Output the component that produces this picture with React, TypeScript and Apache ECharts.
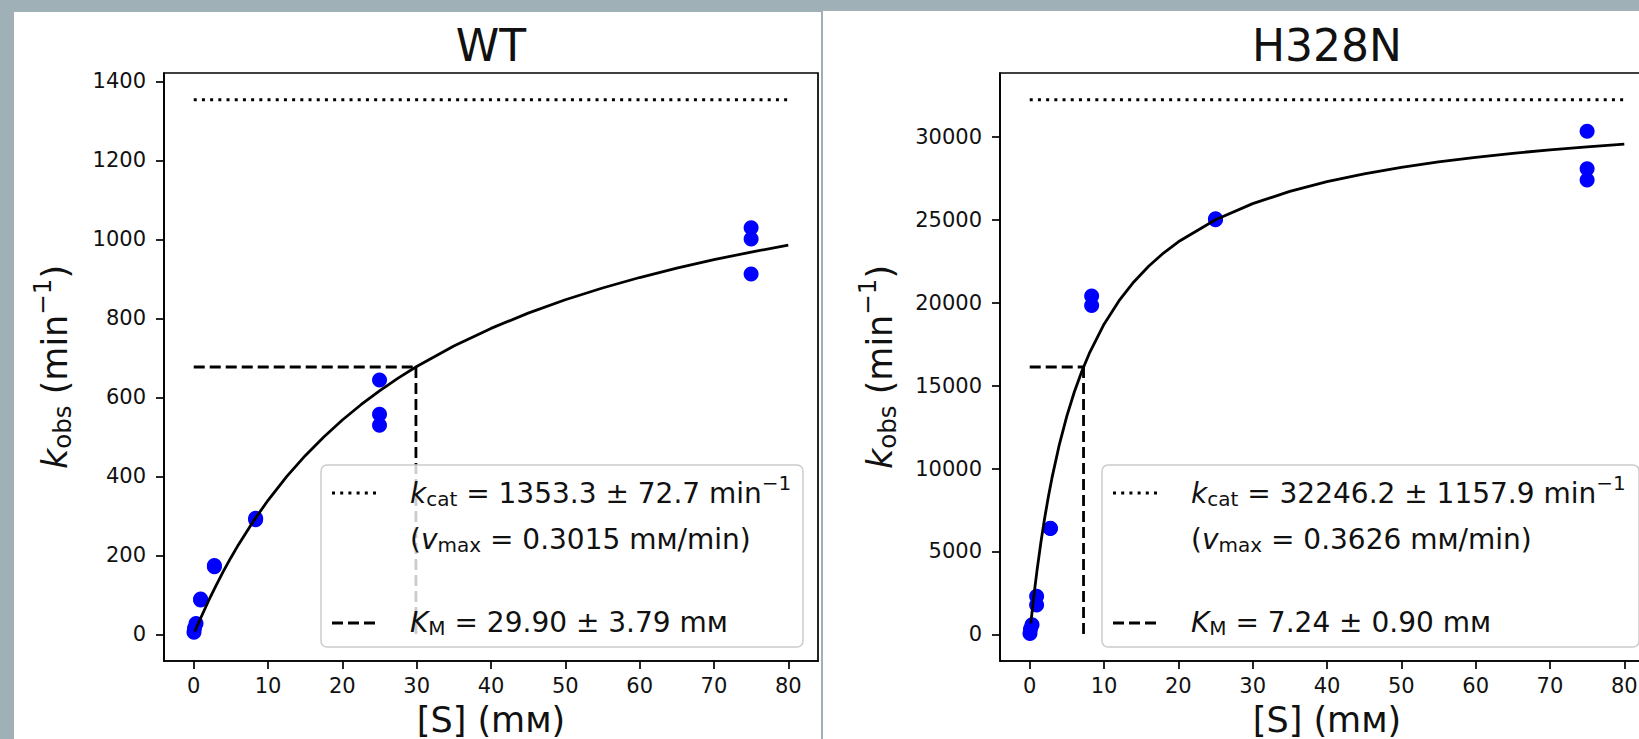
import React, { useEffect, useRef } from "react";
import * as echarts from "echarts";

const FONT = "DejaVu Sans";

// ---- axis ticks & ranges ----
const xTickValues = [0, 10, 20, 30, 40, 50, 60, 70, 80];
const wtYTickValues = [0, 200, 400, 600, 800, 1000, 1200, 1400];
const mutYTickValues = [0, 5000, 10000, 15000, 20000, 25000, 30000];
const xRange = [-4, 84];
const wtYRange = [-67.7, 1421.0];
const mutYRange = [-1612.3, 33858.5];
const refLineEnd = 80;

// ---- titles / labels ----
const panelTitles = ["WT", "H328N"];
const xAxisTitle = "[S] (mм)";

// ---- WT observations ----
const wtS = [75, 75, 75, 25, 25, 25, 8.33, 8.33, 2.78, 2.78, 0.926, 0.926, 0.309, 0.103, 0.034];
const wtK = [1029, 1001, 912, 644, 557, 529, 294, 290, 174, 171, 89, 87, 27, 15, 5];

// ---- H328N observations ----
const mutS = [75, 75, 75, 25, 25, 8.33, 8.33, 2.78, 2.78, 0.926, 0.926, 0.309, 0.103, 0.034];
const mutK = [30350, 28080, 27400, 25060, 25010, 20400, 19830, 6400, 6380, 2300, 1760, 580, 320, 50];

// ---- fitted parameters ----
const wtKcat = 1353.3;
const wtKcatErr = 72.7;
const wtVmax = 0.3015;
const wtKM = 29.9;
const wtKMErr = 3.79;
const mutKcat = 32246.2;
const mutKcatErr = 1157.9;
const mutVmax = 0.3626;
const mutKM = 7.24;
const mutKMErr = 0.9;

// ---- fitted curves ----
const wtFitS = [0.15, 0.5, 1, 2, 3, 4, 5, 6, 8, 10, 12.5, 15, 17.5, 20, 22.5, 25, 27.5, 30, 35, 40, 45, 50, 55, 60, 65, 70, 75, 80];
const wtFitK = [6.8, 22.3, 43.8, 84.9, 123.4, 159.7, 193.9, 226.2, 285.7, 339.2, 399.0, 452.1, 499.6, 542.4, 581.1, 616.3, 648.4, 677.8, 729.8, 774.4, 813.1, 846.9, 876.7, 903.2, 926.9, 948.3, 967.6, 985.1];
const mutFitS = [0.15, 0.3, 0.5, 0.75, 1, 1.5, 2, 2.5, 3, 4, 5, 6, 7, 8, 10, 12, 14, 16, 18, 20, 25, 30, 35, 40, 45, 50, 55, 60, 65, 70, 75, 80];
const mutFitK = [654.5, 1283.0, 2083.1, 3026.9, 3913.4, 5534.2, 6979.7, 8276.7, 9447.1, 11475.5, 13172.5, 14613.1, 15851.3, 16927.2, 18704.3, 20111.9, 21254.6, 22200.5, 22996.5, 23675.6, 25004.8, 25977.1, 26719.1, 27304.1, 27777.3, 28167.5, 28495.2, 28774.1, 29014.4, 29223.6, 29407.4, 29570.9];

const GRIDS = [
  { left: 164, top: 73, width: 654, height: 588 },
  { left: 1000, top: 73, width: 654, height: 588 },
];
const LEGEND_W = [482, 537];

const BLACK = "#000";
const TXT = "#111";
const LW = 2.8;
const DOTTED = [3, 5.2];
const DASHED = [11, 5];

function richSet(fs: number, sfs: number, subPad: number, supPad: number, lh?: number) {
  const base: any = { fontFamily: FONT, fill: TXT };
  if (lh) base.lineHeight = lh;
  return {
    n: { ...base, fontSize: fs },
    i: { ...base, fontSize: fs, fontStyle: "italic" },
    sub: { ...base, fontSize: sfs, padding: [subPad, 0, 0, 0] },
    sup: { ...base, fontSize: sfs, padding: [0, 0, supPad, 0] },
  };
}

function txt(x: number, y: number, text: string, rich: any, extra: any = {}) {
  const align = extra.align || "left";
  const rest = { ...extra };
  delete rest.align;
  return {
    type: "text",
    x,
    y,
    z: 100,
    silent: true,
    ...rest,
    style: {
      text,
      rich,
      align,
      verticalAlign: "middle",
      textAlign: align,
      textVerticalAlign: "middle",
      fill: TXT,
      fontFamily: FONT,
    },
  };
}

export default function App() {
  const ref = useRef<HTMLDivElement>(null);

  useEffect(() => {
    if (!ref.current) return;
    const chart = echarts.init(ref.current, null, { renderer: "svg" });

    const yRanges = [wtYRange, mutYRange];
    const yTicks = [wtYTickValues, mutYTickValues];
    const obsS = [wtS, mutS];
    const obsK = [wtK, mutK];
    const fitS = [wtFitS, mutFitS];
    const fitK = [wtFitK, mutFitK];
    const kcats = [wtKcat, mutKcat];
    const kms = [wtKM, mutKM];

    const axisLabelStyle = {
      fontSize: 21,
      fontFamily: FONT,
      color: TXT,
      formatter: (v: number) => String(v),
    };

    const xAxes = GRIDS.map((_, i) => ({
      type: "value",
      gridIndex: i,
      min: xRange[0],
      max: xRange[1],
      axisLine: { show: true, onZero: false, lineStyle: { color: BLACK, width: 1.7 } },
      axisTick: { show: true, inside: false, length: 8, lineStyle: { color: BLACK, width: 1.7 }, customValues: xTickValues },
      axisLabel: { ...axisLabelStyle, margin: 14, customValues: xTickValues },
      splitLine: { show: false },
    }));
    const yAxes = GRIDS.map((_, i) => ({
      type: "value",
      gridIndex: i,
      min: yRanges[i][0],
      max: yRanges[i][1],
      axisLine: { show: true, onZero: false, lineStyle: { color: BLACK, width: 1.7 } },
      axisTick: { show: true, inside: false, length: 8, lineStyle: { color: BLACK, width: 1.7 }, customValues: yTicks[i] },
      axisLabel: { ...axisLabelStyle, margin: 18, customValues: yTicks[i] },
      splitLine: { show: false },
    }));

    const series: any[] = [];
    GRIDS.forEach((_, i) => {
      const kcat = kcats[i];
      const km = kms[i];
      series.push({
        type: "scatter",
        xAxisIndex: i,
        yAxisIndex: i,
        data: obsS[i].map((s, j) => [s, obsK[i][j]]),
        symbol: "circle",
        symbolSize: 15,
        itemStyle: { color: "#0000ff", opacity: 1 },
        silent: true,
      });
      series.push({
        type: "line",
        xAxisIndex: i,
        yAxisIndex: i,
        data: fitS[i].map((s, j) => [s, fitK[i][j]]),
        showSymbol: false,
        symbol: "none",
        smooth: false,
        lineStyle: { color: BLACK, width: LW, join: "round" },
        silent: true,
      });
      series.push({
        type: "line",
        xAxisIndex: i,
        yAxisIndex: i,
        data: [[0, kcat], [refLineEnd, kcat]],
        showSymbol: false,
        symbol: "none",
        lineStyle: { color: BLACK, width: LW, type: DOTTED, cap: "butt" },
        silent: true,
      });
      series.push({
        type: "line",
        xAxisIndex: i,
        yAxisIndex: i,
        data: [[0, kcat / 2], [km, kcat / 2]],
        showSymbol: false,
        symbol: "none",
        lineStyle: { color: BLACK, width: LW, type: DASHED, cap: "butt" },
        silent: true,
      });
      series.push({
        type: "line",
        xAxisIndex: i,
        yAxisIndex: i,
        data: [[km, kcat / 2], [km, 0]],
        showSymbol: false,
        symbol: "none",
        lineStyle: { color: BLACK, width: LW, type: DASHED, cap: "butt" },
        silent: true,
      });
    });

    const lg = richSet(28, 20, 11, 21);
    const ax = richSet(35, 24.5, 15, 26);
    const axTitle = richSet(35, 24.5, 0, 0, 34);
    const ttl = { n: { fontFamily: FONT, fontSize: 44, fill: TXT } };

    const legendTexts = [
      [
        `{i|k}{sub|cat}{n| = ${wtKcat.toFixed(1)} ± ${wtKcatErr.toFixed(1)} min}{sup|−1}`,
        `{n|(}{i|v}{sub|max}{n| = ${wtVmax.toFixed(4)} mм/min)}`,
        `{i|K}{sub|M}{n| = ${wtKM.toFixed(2)} ± ${wtKMErr.toFixed(2)} mм}`,
      ],
      [
        `{i|k}{sub|cat}{n| = ${mutKcat.toFixed(1)} ± ${mutKcatErr.toFixed(1)} min}{sup|−1}`,
        `{n|(}{i|v}{sub|max}{n| = ${mutVmax.toFixed(4)} mм/min)}`,
        `{i|K}{sub|M}{n| = ${mutKM.toFixed(2)} ± ${mutKMErr.toFixed(2)} mм}`,
      ],
    ];
    const yLabelX = [55, 880];

    const graphics: any[] = [];
    GRIDS.forEach((g, i) => {
      const cx = g.left + g.width / 2;
      const cy = g.top + g.height / 2;
      graphics.push(txt(cx, 45, `{n|${panelTitles[i]}}`, ttl, { align: "center" }));
      graphics.push(txt(cx, 720, `{n|${xAxisTitle}}`, axTitle, { align: "center" }));
      graphics.push(
        txt(yLabelX[i], cy, "{i|k}{sub|obs}{n| (min}{sup|−1}{n|)}", ax, {
          align: "center",
          rotation: Math.PI / 2,
        })
      );
      // legend box
      const bw = LEGEND_W[i];
      const bx = g.left + g.width - 15 - bw;
      const by = 465;
      const bh = 182;
      graphics.push({
        type: "rect",
        z: 99,
        silent: true,
        shape: { x: bx, y: by, width: bw, height: bh, r: 6 },
        style: { fill: "rgba(255,255,255,0.8)", stroke: "#cccccc", lineWidth: 1.5 },
      });
      graphics.push({
        type: "line",
        z: 100,
        silent: true,
        shape: { x1: bx + 11, y1: 493, x2: bx + 59, y2: 493 },
        style: { stroke: BLACK, lineWidth: LW, lineDash: DOTTED },
      });
      graphics.push({
        type: "line",
        z: 100,
        silent: true,
        shape: { x1: bx + 11, y1: 623, x2: bx + 59, y2: 623 },
        style: { stroke: BLACK, lineWidth: LW, lineDash: DASHED },
      });
      graphics.push(txt(bx + 89, 493, legendTexts[i][0], lg));
      graphics.push(txt(bx + 89, 539, legendTexts[i][1], lg));
      graphics.push(txt(bx + 89, 622, legendTexts[i][2], lg));
    });

    chart.setOption({
      animation: false,
      backgroundColor: "transparent",
      grid: GRIDS.map((g) => ({
        ...g,
        show: true,
        borderColor: BLACK,
        borderWidth: 1.7,
        backgroundColor: "transparent",
        containLabel: false,
        outerBoundsMode: "none",
      })),
      xAxis: xAxes,
      yAxis: yAxes,
      series,
      graphic: { elements: graphics },
    });

    return () => chart.dispose();
  }, []);

  return (
    <div style={{ position: "fixed", left: 0, top: 0, width: 1639, height: 739, background: "#9fb1b7", overflow: "hidden" }}>
      <div style={{ position: "absolute", left: 14, top: 12, width: 807, height: 727, background: "#fff" }} />
      <div style={{ position: "absolute", left: 823, top: 11, width: 816, height: 728, background: "#fff" }} />
      <div ref={ref} style={{ position: "absolute", left: 0, top: 0, width: 1639, height: 739 }} />
    </div>
  );
}
